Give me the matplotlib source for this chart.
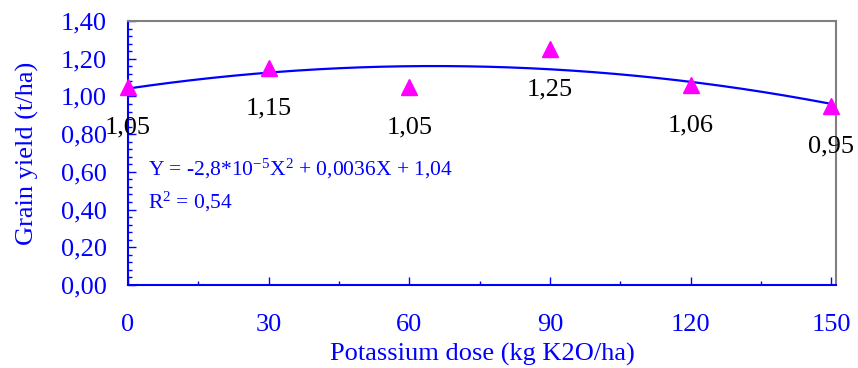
import numpy as np
import matplotlib
matplotlib.use("Agg")
import matplotlib.pyplot as plt
from matplotlib.ticker import MultipleLocator, FuncFormatter

dose = [0, 30, 60, 90, 120, 150]
grain_yield = [1.05, 1.15, 1.05, 1.25, 1.06, 0.95]
point_labels = ["1,05", "1,15", "1,05", "1,25", "1,06", "0,95"]
equation_text = r"Y = -2,8*10$^{-5}$X$^{2}$ + 0,0036X + 1,04"
r2_text = r"R$^{2}$ = 0,54"

plt.rcParams['font.family'] = ['Liberation Serif', 'DejaVu Serif']
plt.rcParams['mathtext.fontset'] = 'custom'
plt.rcParams['mathtext.rm'] = 'Liberation Serif'
plt.rcParams['mathtext.it'] = 'Liberation Serif'

BLUE = '#0000FF'
MAG = '#FF00FF'

fig = plt.figure(figsize=(8.58, 3.68), dpi=100)
ax = fig.add_axes([128/858, 1-285/368, (836-128)/858, (285-21)/368])

coef = np.polyfit(dose, grain_yield, 2)
xs = np.linspace(min(dose), max(dose), 300)
ax.plot(xs, np.polyval(coef, xs), color=BLUE, lw=1.6, zorder=2)
ax.plot(dose, grain_yield, linestyle='none', marker='^', color=MAG,
        markersize=11, zorder=3, clip_on=False)

for x, y, t in zip(dose, grain_yield, point_labels):
    ax.annotate(t, (x, y), xytext=(0, -29), textcoords='offset points',
                ha='center', va='center', fontsize=19, color='black')

ax.text(0.028, 0.44, equation_text, transform=ax.transAxes, color=BLUE,
        fontsize=15.5, va='center', ha='left')
ax.text(0.028, 0.315, r2_text, transform=ax.transAxes, color=BLUE,
        fontsize=15.5, va='center', ha='left')

ax.set_xlim(0, 151)
ax.set_ylim(0, 1.4)
ax.xaxis.set_major_locator(MultipleLocator(30))
ax.xaxis.set_minor_locator(MultipleLocator(15))
ax.yaxis.set_major_locator(MultipleLocator(0.2))
ax.yaxis.set_minor_locator(MultipleLocator(0.04))
ax.yaxis.set_major_formatter(FuncFormatter(lambda v, p: f"{v:.2f}".replace('.', ',')))

ax.tick_params(axis='both', which='both', direction='in', colors=BLUE,
               labelsize=19, labelcolor=BLUE)
ax.tick_params(axis='both', which='major', length=6, width=1)
ax.tick_params(axis='both', which='minor', length=3, width=1)
ax.tick_params(axis='x', which='major', pad=21)
ax.tick_params(axis='y', which='major', pad=15)

ax.spines['left'].set_color(BLUE)
ax.spines['bottom'].set_color(BLUE)
ax.spines['left'].set_linewidth(1.5)
ax.spines['bottom'].set_linewidth(1.5)
ax.spines['top'].set_color('#808080')
ax.spines['right'].set_color('#808080')
ax.spines['top'].set_linewidth(1.5)
ax.spines['right'].set_linewidth(1.5)

ax.set_xlabel("Potassium dose (kg K2O/ha)", color=BLUE, fontsize=19, labelpad=5)
ax.set_ylabel("Grain yield (t/ha)", color=BLUE, fontsize=19, labelpad=16)

fig.savefig("out.png", dpi=100)
